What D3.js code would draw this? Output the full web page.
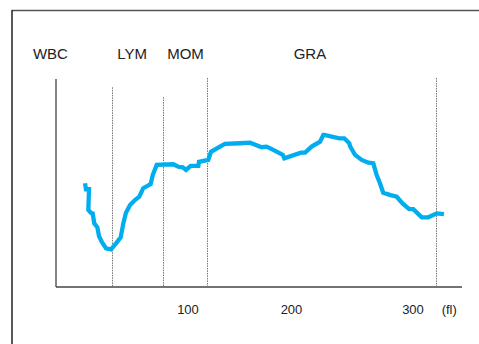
<!DOCTYPE html>
<html>
<head>
<meta charset="utf-8">
<script src="https://cdn.jsdelivr.net/npm/d3@7"></script>
<style>
  html, body { margin: 0; padding: 0; background: #fff; }
  svg { display: block; }
  text { font-family: "Liberation Sans", Arial, Helvetica, sans-serif; fill: #222; }
</style>
</head>
<body>
<div id="chart"></div>
<script>
// ---- data ----
// volume in fL
const curveFl = [22.0, 22.7, 25.0, 24.5, 26.3, 27.8, 29.0, 31.3, 32.6, 34.6, 37.9, 41.7, 45.5, 49.0, 51.0, 53.0, 56.1, 59.8, 63.1, 66.1, 71.7, 73.3, 76.3, 88.9, 92.7, 96.0, 98.5,
  102.6, 110.0, 110.6, 119.6, 122.2, 130.9, 135.7, 150.2, 159.9, 171.2, 176.0, 182.4, 191.5, 193.0,
  207.8, 211.1, 216.6, 223.5, 226.2, 227.0, 239.3, 243.5, 247.6, 248.1, 252.3, 257.8, 263.2, 267.3, 270.1, 272.8, 275.5, 281.6, 286.6, 291.4, 296.9,
  300.3, 308.9, 315.6, 324.2, 331.6];
// relative count
const curveCount = [49.9, 47.0, 47.0, 37.0, 35.7, 35.4, 30.6, 28.7, 24.5, 21.8, 18.6, 18.1, 21.0, 23.9, 30.6, 35.7, 39.4, 41.8, 43.4, 47.5, 49.5, 53.8, 58.7, 59.0, 57.8, 57.5, 56.3,
  58.2, 58.2, 60.2, 61.1, 65.0, 67.5, 68.8, 69.1, 69.4, 67.2, 67.5, 65.9, 63.5, 61.9,
  64.6, 64.6, 67.5, 69.9, 73.1, 73.1, 71.5, 71.5, 69.1, 67.8, 63.5, 61.1, 59.8, 59.5, 53.8, 49.9, 45.3, 44.2, 43.4, 40.2, 37.4, 37.4, 33.5,
  33.5, 35.4, 35.0, 34.1];
const dividerFl = [42.4, 81.3, 118.4, 323.2];
const dividerTop = [96, 91.3, 100.5, 100.5];
const regionLabels = ["WBC", "LYM", "MOM", "GRA"];
const regionLabelFl = [-4.2, 57.6, 98.1, 215.2];
const tickValues = [100, 200, 300];
const tickLabels = ["100", "200", "300"];
const unitLabel = "(fl)";
const unitFl = 337;

// ---- layout ----
const W = 479, H = 344;
const svg = d3.select("#chart").append("svg").attr("width", W).attr("height", H);

// frame
svg.append("line").attr("x1", 12).attr("x2", W).attr("y1", 10.5).attr("y2", 10.5)
  .attr("stroke", "#555").attr("stroke-width", 1.5);
svg.append("line").attr("x1", 12).attr("x2", 12).attr("y1", 10).attr("y2", H)
  .attr("stroke", "#222").attr("stroke-width", 1.5);

const x = d3.scaleLinear().domain([0, 100, 200, 300, 350]).range([56, 188, 291.5, 413, 462]);
const y = d3.scaleLinear().domain([0, 100]).range([287, 79]);

// axes
svg.append("line").attr("x1", x(0)).attr("x2", x(350)).attr("y1", y(0)).attr("y2", y(0))
  .attr("stroke", "#444").attr("stroke-width", 1.3);
svg.append("line").attr("x1", x(0)).attr("x2", x(0)).attr("y1", y(0)).attr("y2", y(100))
  .attr("stroke", "#444").attr("stroke-width", 1.3);

// dividers
dividerFl.forEach((d, i) => {
  svg.append("line")
    .attr("x1", Math.round(x(d)) + 0.5).attr("x2", Math.round(x(d)) + 0.5)
    .attr("y1", y(dividerTop[i])).attr("y2", y(0) + 1)
    .attr("stroke", "#777").attr("stroke-width", 1)
    .attr("stroke-dasharray", "1.5,1");
});

// curve
const pts = curveFl.map((f, i) => [f, curveCount[i]]);
const line = d3.line().x(d => x(d[0])).y(d => y(d[1]));
svg.append("path").datum(pts).attr("d", line)
  .attr("fill", "none").attr("stroke", "#00AEEF").attr("stroke-width", 4.3)
  .attr("stroke-linejoin", "miter").attr("stroke-linecap", "butt");

// region labels
regionLabels.forEach((t, i) => {
  svg.append("text").attr("x", x(regionLabelFl[i])).attr("y", 59)
    .attr("text-anchor", "middle").attr("font-size", 15).text(t);
});

// tick labels
tickValues.forEach((v, i) => {
  svg.append("text").attr("x", x(v)).attr("y", 314)
    .attr("text-anchor", "middle").attr("font-size", 13).text(tickLabels[i]);
});
svg.append("text").attr("x", x(unitFl)).attr("y", 314)
  .attr("text-anchor", "middle").attr("font-size", 13).text(unitLabel);
</script>
</body>
</html>
